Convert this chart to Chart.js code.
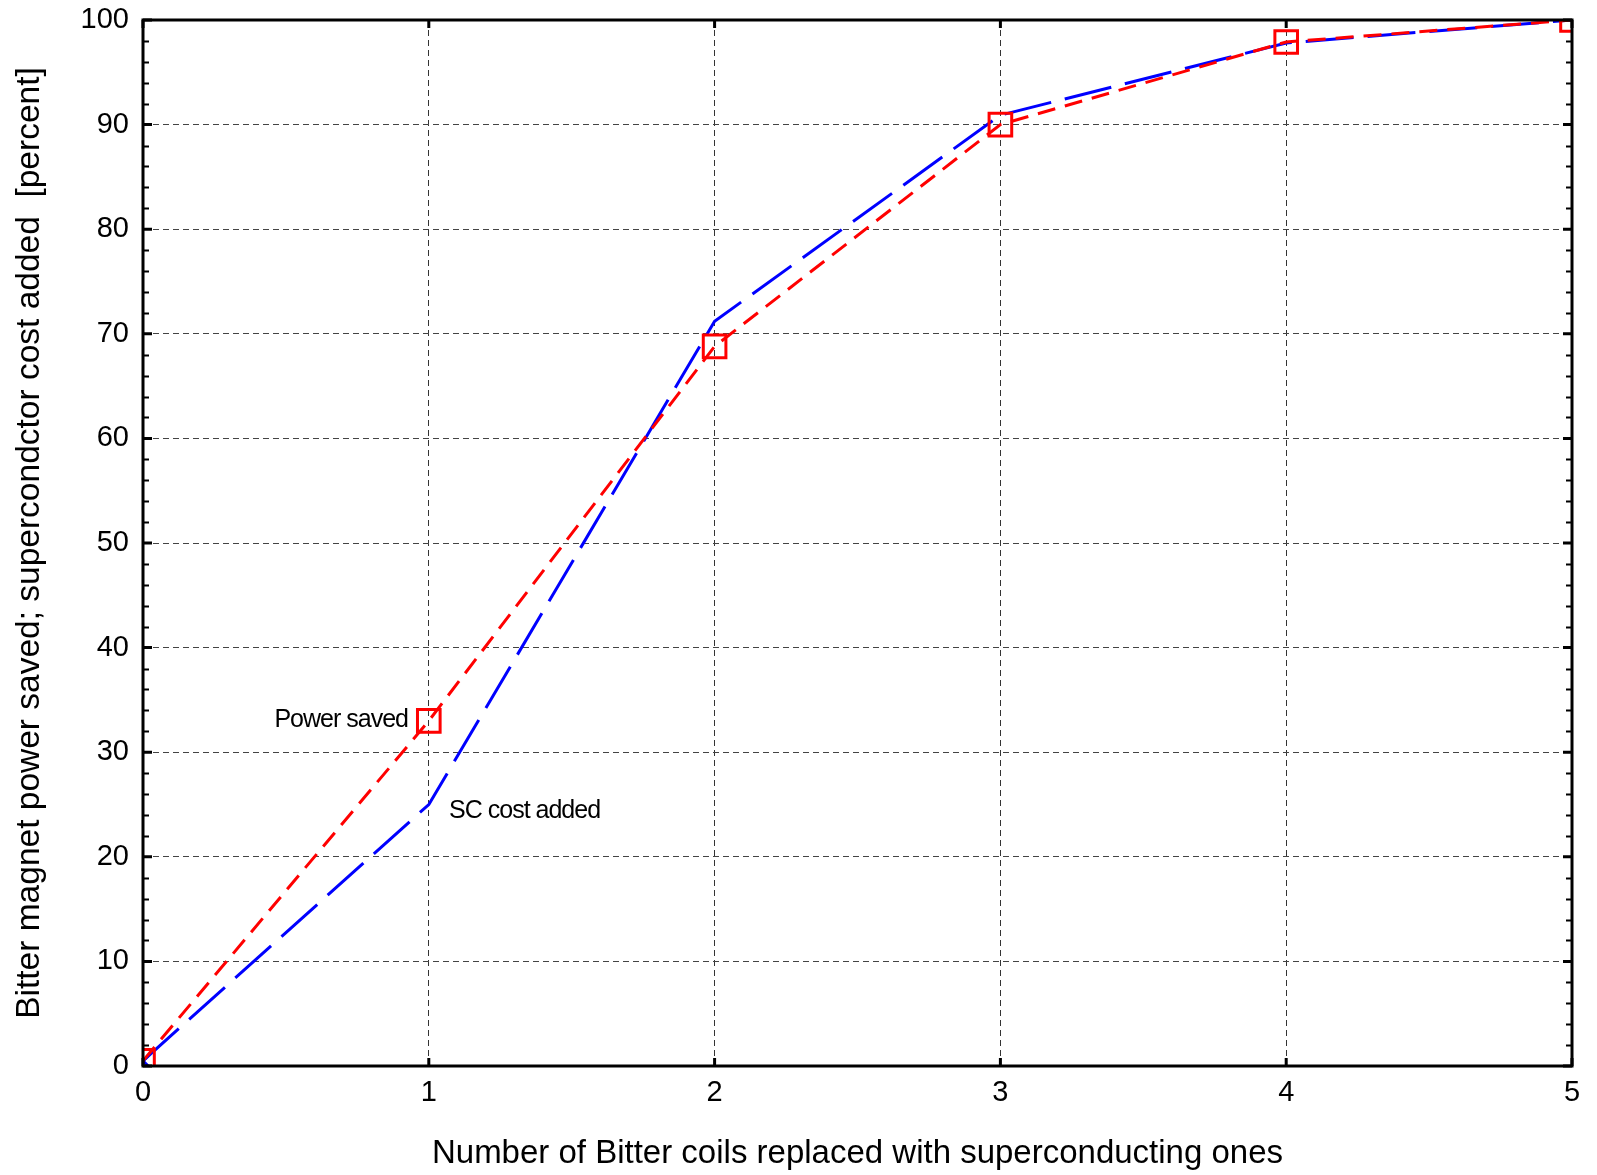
<!DOCTYPE html>
<html>
<head>
<meta charset="utf-8">
<script src="https://cdn.jsdelivr.net/npm/chart.js@4.4.1/dist/chart.umd.min.js"></script>
<style>
  html, body { margin: 0; padding: 0; background: #fff; }
  #wrap { width: 1597px; height: 1175px; }
</style>
</head>
<body>
<div id="wrap"><canvas id="grafico"></canvas></div>
<script>
// data
const coils = [0, 1, 2, 3, 4, 5];
const powerSaved = [0.5, 33, 68.8, 90, 97.9, 100];
const scCostAdded = [0.5, 25, 71.2, 90.9, 97.8, 100];
const xTicks = [0, 1, 2, 3, 4, 5];
const yTicks = [0, 10, 20, 30, 40, 50, 60, 70, 80, 90, 100];

const xTitle = 'Number of Bitter coils replaced with superconducting ones';
const yTitle = 'Bitter magnet power saved; supercondctor cost added  [percent]';

const FONT = 'Arial, "Liberation Sans", sans-serif';

// points for the library
const redPts = coils.map((c, i) => ({ x: c, y: powerSaved[i] }));
const bluePts = coils.map((c, i) => ({ x: c, y: scCostAdded[i] }));

// frame with ticks on all four sides + labels near the curves
const frame = {
    id: 'frame',
    afterDatasetsDraw(chart) {
        const { ctx, chartArea: a, scales } = chart;
        const xs = scales.x, ys = scales.y;
        ctx.save();
        ctx.setLineDash([]);
        ctx.strokeStyle = '#000';

        // minor y ticks (every 2)
        ctx.lineWidth = 2;
        ctx.beginPath();
        for (let v = 0; v <= 100; v += 2) {
            if (v % 10 === 0) continue;
            const y = Math.round(ys.getPixelForValue(v)) + 0.5;
            ctx.moveTo(a.left, y); ctx.lineTo(a.left + 6, y);
            ctx.moveTo(a.right, y); ctx.lineTo(a.right - 6, y);
        }
        ctx.stroke();

        // major ticks
        ctx.lineWidth = 3;
        ctx.beginPath();
        yTicks.forEach(v => {
            const y = ys.getPixelForValue(v);
            ctx.moveTo(a.left, y); ctx.lineTo(a.left + 9, y);
            ctx.moveTo(a.right, y); ctx.lineTo(a.right - 9, y);
        });
        xTicks.forEach(v => {
            const x = xs.getPixelForValue(v);
            ctx.moveTo(x, a.bottom); ctx.lineTo(x, a.bottom - 8);
            ctx.moveTo(x, a.top); ctx.lineTo(x, a.top + 8);
        });
        ctx.stroke();

        // box
        ctx.lineWidth = 3;
        ctx.strokeRect(a.left, a.top, a.right - a.left, a.bottom - a.top);

        // labels
        ctx.fillStyle = '#000';
        ctx.font = '25px ' + FONT;
        ctx.letterSpacing = '-1px';
        ctx.textBaseline = 'middle';
        ctx.textAlign = 'right';
        ctx.fillText('Power saved', xs.getPixelForValue(0.927), ys.getPixelForValue(33.1));
        ctx.textAlign = 'left';
        ctx.fillText('SC cost added', xs.getPixelForValue(1.071), ys.getPixelForValue(24.4));
        ctx.restore();
    }
};

const ctx = document.getElementById('grafico').getContext('2d');

new Chart(ctx, {
    type: 'line',
    data: {
        datasets: [
            {
                label: 'Power saved',
                data: redPts,
                borderColor: '#ff0000',
                borderWidth: 3,
                borderDash: [18, 10],
                pointStyle: 'rect',
                pointRadius: 16,
                pointBorderWidth: 3,
                pointBorderColor: '#ff0000',
                pointBackgroundColor: 'rgba(0,0,0,0)',
                fill: false,
                tension: 0
            },
            {
                label: 'SC cost added',
                data: bluePts,
                borderColor: '#0000ff',
                borderWidth: 3,
                borderDash: [48, 14],
                pointStyle: 'crossRot',
                pointRadius: [7, 0, 0, 0, 0, 0],
                pointBorderWidth: 3,
                pointBorderColor: '#0000ff',
                fill: false,
                tension: 0
            }
        ]
    },
    options: {
        responsive: true,
        maintainAspectRatio: false,
        animation: false,
        layout: { padding: { left: 0, right: 25, top: 20, bottom: 0 } },
        plugins: {
            legend: { display: false },
            tooltip: { enabled: false }
        },
        scales: {
            x: {
                type: 'linear',
                min: 0,
                max: 5,
                afterFit(scale) { scale.height = 109; scale.paddingLeft = 0; scale.paddingRight = 0; },
                afterBuildTicks(scale) { scale.ticks = xTicks.map(v => ({ value: v })); },
                grid: { color: '#333', lineWidth: 1, drawTicks: false },
                border: { display: false, dash: [6, 4] },
                ticks: {
                    color: '#000',
                    padding: 10,
                    font: { family: FONT, size: 29 }
                },
                title: {
                    display: true,
                    text: xTitle,
                    color: '#000',
                    font: { family: FONT, size: 33 },
                    padding: { top: 0, bottom: 1 }
                }
            },
            y: {
                min: 0,
                max: 100,
                afterFit(scale) { scale.width = 143; scale.paddingTop = 0; scale.paddingBottom = 0; },
                afterBuildTicks(scale) { scale.ticks = yTicks.map(v => ({ value: v })); },
                grid: { color: '#444', lineWidth: 1, drawTicks: false },
                border: { display: false, dash: [6, 4] },
                ticks: {
                    color: '#000',
                    padding: 14,
                    font: { family: FONT, size: 29 }
                },
                title: {
                    display: true,
                    text: yTitle,
                    color: '#000',
                    font: { family: FONT, size: 33.5 },
                    padding: { top: 10, bottom: 0 }
                }
            }
        }
    },
    plugins: [frame]
});
</script>
</body>
</html>
